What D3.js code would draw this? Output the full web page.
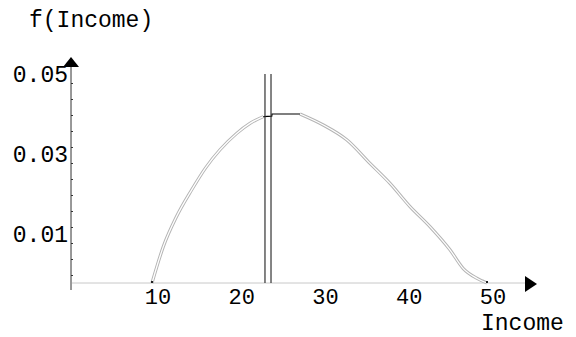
<!DOCTYPE html>
<html>
<head>
<meta charset="utf-8">
<script src="https://cdn.jsdelivr.net/npm/d3@7/dist/d3.min.js"></script>
<style>
  body { margin: 0; background: #fff; }
  svg text { font-family: "Liberation Mono", "Courier New", monospace; font-size: 23px; fill: #000; }
</style>
</head>
<body>
<svg id="chart" width="576" height="337"></svg>
<script>
// density curve (income, f(income))
var leftX  = [10, 11.35, 12.9, 14.74, 16.4, 18.12, 20.11, 21.7, 23.29];
var leftY  = [0, 0.0091, 0.0165, 0.0233, 0.0288, 0.0333, 0.0374, 0.0399, 0.0416];
var topX   = [23.29, 24.3, 24.33, 27.67];
var topY   = [0.0416, 0.0417, 0.04225, 0.04225];
var rightX = [27.67, 30.45, 33.25, 36.03, 38.42, 40.81, 43.19, 45.58, 47.17, 48.77, 50];
var rightY = [0.04225, 0.0395, 0.0358, 0.0299, 0.0249, 0.0191, 0.0141, 0.0083, 0.0036, 0.0012, 0];

// the two vertical marker lines
var cutX = [23.49, 24.21];
var cutTop = 0.05225;

var xTicks = [10, 20, 30, 40, 50];
var yTicks = [0.01, 0.03, 0.05];
var yMinor = d3.range(0.002, 0.0521, 0.004);

var svg = d3.select("svg#chart");

var x = d3.scaleLinear().domain([0, 10]).range([68.25, 152]);
var y = d3.scaleLinear().domain([0, 0.01]).range([283, 243]);

var xAxisOrigin = 0.33;   // where the y axis crosses

var line = d3.line().x(d => x(d[0])).y(d => y(d[1])).curve(d3.curveMonotoneX);
var zip = (a, b) => a.map((v, i) => [v, b[i]]);

//x axis line
svg.append("line")
  .attr("x1", x(xAxisOrigin) + 1).attr("x2", 525)
  .attr("y1", y(0)).attr("y2", y(0))
  .attr("stroke", "#c8c8c8").attr("stroke-width", 1);

//x axis labels
let gx = svg.append("g")
  .attr("class", "xaxis")
  .attr("transform", `translate(0,${y(0)})`)
  .call(d3.axisBottom(x).tickValues(xTicks).tickSize(0).tickFormat(d3.format("d")));
gx.select(".domain").remove();
gx.selectAll("text")
  .attr("dx", 5.5)
  .attr("y", 21)
  .attr("dy", 0)
  .style("font-family", "Liberation Mono")
  .style("font-size", "22px");

//x arrow
svg.append("path")
  .attr("d", "M525,276 L537,284 L525,292 Z")
  .attr("fill", "#000");

//y axis
svg.append("line")
  .attr("x1", x(xAxisOrigin)).attr("x2", x(xAxisOrigin))
  .attr("y1", 67).attr("y2", 290)
  .attr("stroke", "#777").attr("stroke-width", 1.5);

let gyMinor = svg.append("g")
  .attr("class", "yaxis-minor")
  .attr("transform", `translate(${x(xAxisOrigin)},0)`)
  .call(d3.axisRight(y).tickValues(yMinor).tickSize(2).tickFormat(""));
gyMinor.select(".domain").remove();
gyMinor.selectAll("line").attr("stroke", "#333");

let gy = svg.append("g")
  .attr("class", "yaxis")
  .attr("transform", `translate(${x(xAxisOrigin)},0)`)
  .call(d3.axisLeft(y).tickValues(yTicks).tickSize(0).tickFormat(d3.format(".2f")));
gy.select(".domain").remove();
gy.selectAll("text")
  .attr("x", -3)
  .attr("dy", -2)
  .attr("dominant-baseline", "auto")
  .style("font-family", "Liberation Mono")
  .style("font-size", "23px");

//y arrow
svg.append("path")
  .attr("d", `M${x(xAxisOrigin)},57 L${x(xAxisOrigin) + 8},67 L${x(xAxisOrigin) - 8},67 Z`)
  .attr("fill", "#000");

//axis titles
svg.append("text").attr("x", 29).attr("y", 27).text("f(Income)");
svg.append("text").attr("x", 481).attr("y", 330).text("Income");

//curve: hollow gray stroke
[zip(leftX, leftY), zip(rightX, rightY)].forEach(function(pts){
  svg.append("path").attr("d", line(pts))
    .attr("fill", "none").attr("stroke", "#b4b4b4").attr("stroke-width", 3.2);
  svg.append("path").attr("d", line(pts))
    .attr("fill", "none").attr("stroke", "#fff").attr("stroke-width", 1.3);
});

//flat top in black
svg.append("path")
  .attr("d", d3.line().x(d => x(d[0])).y(d => y(d[1]))(zip(topX, topY)))
  .attr("fill", "none").attr("stroke", "#000").attr("stroke-width", 1.2);

//end marks
svg.selectAll("rect.endmark")
  .data([10, 50])
  .enter().append("rect")
  .attr("class", "endmark")
  .attr("x", d => x(d) - 1).attr("y", y(0) - 2)
  .attr("width", 2).attr("height", 2)
  .attr("fill", "#222");

//vertical lines
svg.selectAll("line.cut")
  .data(cutX)
  .enter().append("line")
  .attr("class", "cut")
  .attr("x1", d => x(d)).attr("x2", d => x(d))
  .attr("y1", y(cutTop)).attr("y2", y(0))
  .attr("stroke", "#333").attr("stroke-width", 1.2);
</script>
</body>
</html>
